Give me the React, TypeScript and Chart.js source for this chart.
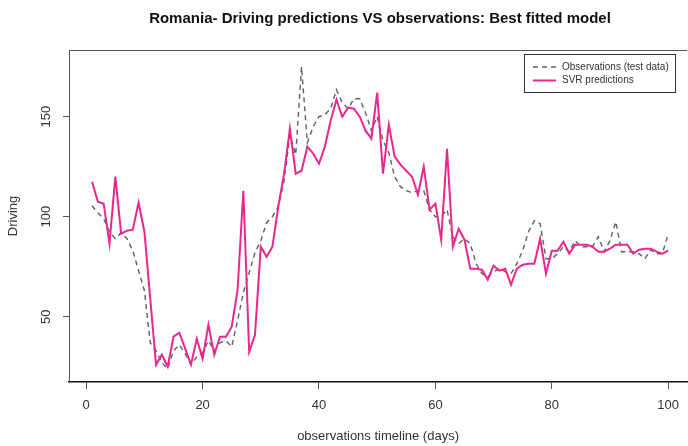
import React, { useEffect, useRef } from "react";
import { Chart, registerables } from "chart.js";

Chart.register(...registerables);

const TITLE = "Romania- Driving predictions VS observations: Best fitted model";
const X_TITLE = "observations timeline (days)";
const Y_TITLE = "Driving";
const SERIES_NAMES = ["Observations (test data)", "SVR predictions"];

const xTicks = [0, 20, 40, 60, 80, 100];
const yTicks = [50, 100, 150];

// values for days 1..100
const observations = [
  105.5, 102, 99, 92.5, 89, 92, 89, 83, 73, 63,
  37, 33, 27, 24, 33, 36, 31.5, 26, 30, 32,
  38, 33, 37, 38, 35, 48, 62, 72, 82, 88,
  97, 100, 105, 118, 141, 131, 175, 137, 145, 150,
  151, 154, 163.5, 157, 154, 159, 159, 152, 143, 150,
  138, 132, 120, 115, 113, 112, 113, 113, 103.5, 100,
  100, 103.5, 90, 86.5, 89, 86.5, 76.5, 71.5, 70, 72.5,
  74, 72.5, 71.5, 76.5, 83, 92.5, 98, 96.5, 79, 79,
  81.5, 85, 82.5, 88, 85, 85, 85, 90, 82.5, 88,
  97.5, 82.5, 82.5, 82.5, 81.5, 79, 83.5, 81.5, 81.5, 91.5,
];

const svrPredictions = [
  117.5, 107.5, 106.5, 86.5, 120, 91.5, 93, 93.5, 107, 92.5,
  59, 26, 31, 25, 40, 42, 34, 26, 39, 29,
  46, 31, 40, 40, 45, 63, 113, 32.5, 41, 85,
  80, 85, 105, 121.5, 144, 121.5, 123, 135, 131.5, 126.5,
  135, 148, 158.5, 150, 154.5, 154, 150, 143, 139, 162,
  121.5, 146, 130, 126, 123, 120, 111, 125, 103.5, 106.5,
  88.5, 134, 85, 94, 88.5, 74, 74, 73.5, 68.5, 75.5,
  73, 74, 66, 74, 76, 76.5, 76.5, 89, 71.5, 83,
  83, 87.5, 81.5, 86, 86, 86, 85, 82.5, 82.5, 84,
  86, 86, 86, 81.5, 83.5, 84, 84, 82.5, 81.5, 83,
];

const OBS_COLOR = "#606060";
const SVR_COLOR = "#E8288C";
const FONT = "'Liberation Sans', Arial, sans-serif";

const toPoints = (arr: number[]) => arr.map((v, i) => ({ x: i + 1, y: v }));

const decorPlugin = {
  id: "decor",
  afterDraw(chart: any) {
    const { ctx, chartArea } = chart;
    ctx.save();
    // top border of the box
    ctx.strokeStyle = "#555";
    ctx.lineWidth = 1;
    ctx.beginPath();
    ctx.moveTo(chartArea.left, chartArea.top + 0.5);
    ctx.lineTo(chartArea.right, chartArea.top + 0.5);
    ctx.stroke();

    // title
    ctx.fillStyle = "#111";
    ctx.font = `bold 15px ${FONT}`;
    ctx.textAlign = "center";
    ctx.textBaseline = "middle";
    ctx.fillText(TITLE, 380, 19);

    // legend
    const lx = 524, ly = 54, lw = 151, lh = 38;
    ctx.fillStyle = "#fff";
    ctx.fillRect(lx, ly, lw, lh);
    ctx.strokeStyle = "#333";
    ctx.lineWidth = 1;
    ctx.strokeRect(lx + 0.5, ly + 0.5, lw, lh);
    const ds = chart.data.datasets;
    const rows = [67, 80.5];
    ds.forEach((d: any, i: number) => {
      ctx.save();
      ctx.strokeStyle = d.borderColor;
      ctx.lineWidth = d.borderWidth;
      ctx.setLineDash(d.borderDash || []);
      ctx.beginPath();
      ctx.moveTo(533, rows[i]);
      ctx.lineTo(556, rows[i]);
      ctx.stroke();
      ctx.restore();
      ctx.fillStyle = "#333";
      ctx.font = `10px ${FONT}`;
      ctx.textAlign = "left";
      ctx.textBaseline = "middle";
      ctx.fillText(d.label, 562, rows[i]);
    });
    ctx.restore();
  },
};

export default function App() {
  const ref = useRef<HTMLCanvasElement | null>(null);

  useEffect(() => {
    if (!ref.current) return;
    const chart = new Chart(ref.current, {
      type: "line",
      data: {
        datasets: [
          {
            label: SERIES_NAMES[0],
            data: toPoints(observations),
            borderColor: OBS_COLOR,
            borderWidth: 1.4,
            borderDash: [5, 4],
            pointRadius: 0,
            tension: 0,
            fill: false,
            order: 1,
          },
          {
            label: SERIES_NAMES[1],
            data: toPoints(svrPredictions),
            borderColor: SVR_COLOR,
            borderWidth: 2,
            pointRadius: 0,
            tension: 0,
            fill: false,
            order: 0,
          },
        ],
      },
      options: {
        responsive: false,
        animation: false,
        events: [],
        layout: { padding: { top: 50, right: 0, left: 0, bottom: 0 } },
        plugins: { legend: { display: false }, tooltip: { enabled: false }, title: { display: false } },
        scales: {
          x: {
            type: "linear",
            min: -2.96,
            max: 103.26,
            afterFit: (s: any) => { s.height = 64; },
            afterBuildTicks: (s: any) => { s.ticks = xTicks.map((v) => ({ value: v })); },
            grid: { display: true, drawOnChartArea: false, drawTicks: true, tickLength: 7, color: "#555", lineWidth: 1 },
            border: { display: true, color: "#111", width: 1.5 },
            ticks: { font: { family: FONT, size: 13 }, color: "#333", padding: 9, maxRotation: 0, minRotation: 0 },
            title: { display: true, text: X_TITLE, font: { family: FONT, size: 13 }, color: "#333", padding: { top: 0, bottom: 1.5 } },
          },
          y: {
            type: "linear",
            min: 17.35,
            max: 183.35,
            afterFit: (s: any) => { s.width = 69; },
            afterBuildTicks: (s: any) => { s.ticks = yTicks.map((v) => ({ value: v })); },
            grid: { display: true, drawOnChartArea: false, drawTicks: true, tickLength: 6, color: "#555", lineWidth: 1 },
            border: { display: true, color: "#555", width: 1 },
            ticks: { font: { family: FONT, size: 13 }, color: "#333", padding: 6, minRotation: 90, maxRotation: 90, crossAlign: "center" },
            title: { display: true, text: Y_TITLE, font: { family: FONT, size: 13 }, color: "#333", padding: { top: 6, bottom: 0 } },
          },
        },
      },
      plugins: [decorPlugin],
    } as any);
    return () => chart.destroy();
  }, []);

  return (
    <div style={{ position: "fixed", left: 0, top: 0, width: 688, height: 446, background: "#fff" }}>
      <canvas ref={ref} width={688} height={446} style={{ display: "block", width: 688, height: 446 }} />
    </div>
  );
}
